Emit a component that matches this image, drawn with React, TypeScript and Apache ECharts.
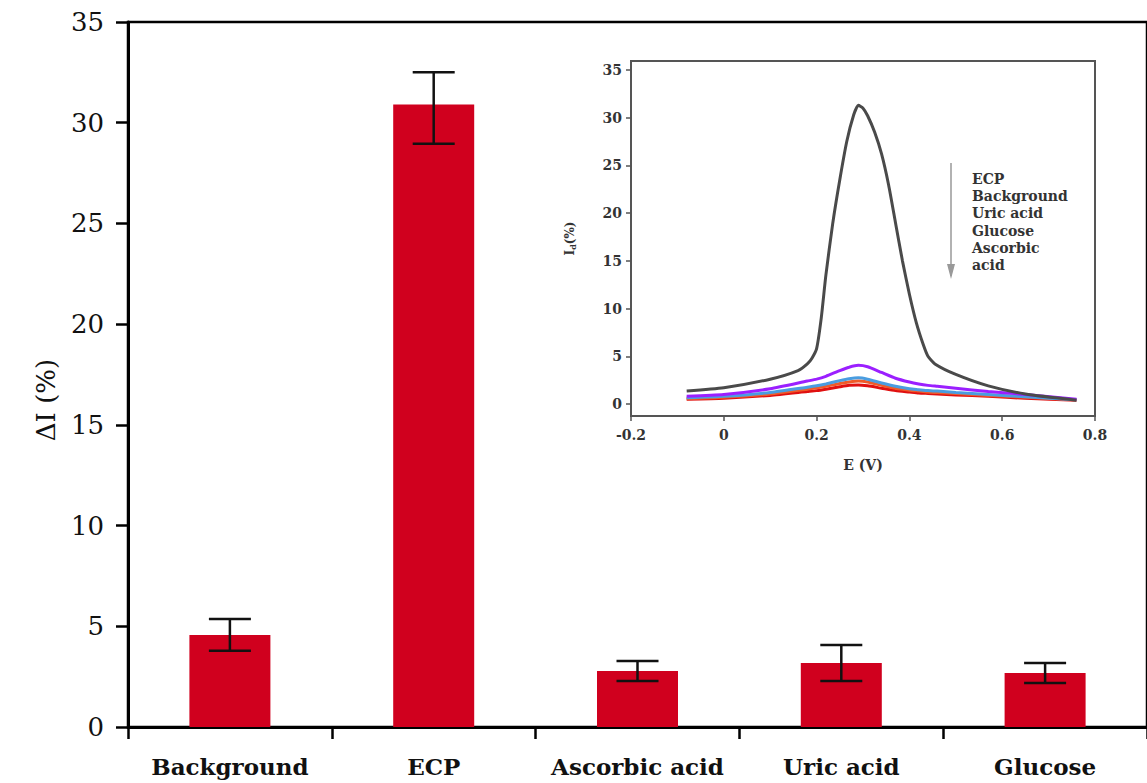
import React, { useEffect, useRef } from "react";
import * as echarts from "echarts";

const categories = ["Background", "ECP", "Ascorbic acid", "Uric acid", "Glucose"];
const barValues = [4.57, 30.9, 2.78, 3.18, 2.68];
const errLow = [3.78, 28.95, 2.28, 2.28, 2.18];
const errHigh = [5.36, 32.5, 3.28, 4.07, 3.18];
const yTicks = [0, 5, 10, 15, 20, 25, 30, 35];

const ecpE = [-0.08, 0, 0.1, 0.16, 0.18, 0.19, 0.2, 0.21, 0.22, 0.235, 0.25, 0.265, 0.28, 0.29, 0.3, 0.31, 0.325, 0.34, 0.355, 0.37, 0.385, 0.4, 0.415, 0.43, 0.44, 0.455, 0.5, 0.57, 0.65, 0.76];
const insetECP = [1.35, 1.7, 2.6, 3.5, 4.2, 4.8, 5.8, 9.0, 13.5, 19, 23.5, 27.5, 30.3, 31.3, 31.0, 30.2, 28.5, 26.2, 23, 19, 15, 11.5, 8.5, 6.2, 5.0, 4.2, 3.1, 1.9, 1.05, 0.4];
const insetE = [-0.08, 0, 0.1, 0.18, 0.2, 0.22, 0.25, 0.27, 0.29, 0.31, 0.34, 0.37, 0.4, 0.42, 0.44, 0.46, 0.5, 0.57, 0.65, 0.76];
const insetBackground = [0.8, 1.0, 1.6, 2.4, 2.6, 2.9, 3.5, 3.85, 4.05, 3.9, 3.3, 2.7, 2.3, 2.1, 1.95, 1.85, 1.65, 1.3, 1.0, 0.5];
const insetUric = [0.65, 0.8, 1.2, 1.75, 1.9, 2.1, 2.45, 2.65, 2.75, 2.6, 2.2, 1.85, 1.6, 1.5, 1.4, 1.35, 1.2, 1.0, 0.75, 0.45];
const insetGlucose = [0.55, 0.7, 1.05, 1.55, 1.7, 1.85, 2.15, 2.3, 2.4, 2.3, 1.95, 1.65, 1.45, 1.35, 1.25, 1.2, 1.1, 0.9, 0.7, 0.45];
const insetAscorbic = [0.5, 0.6, 0.9, 1.3, 1.4, 1.55, 1.8, 1.95, 2.0, 1.9, 1.65, 1.4, 1.25, 1.15, 1.1, 1.05, 0.95, 0.8, 0.6, 0.4];
const insetLegend = ["ECP", "Background", "Uric acid", "Glucose", "Ascorbic", "acid"];

const FONT = "DejaVu Serif";

export default function App() {
  const ref = useRef<HTMLDivElement>(null);
  useEffect(() => {
    if (!ref.current) return;
    const chart = echarts.init(ref.current, null, { renderer: "svg" });
    const pair = (xs: number[], ys: number[]) => xs.map((e, i) => [e, ys[i]]);
    const insetLine = (name: string, xs: number[], ys: number[], color: string, w: number) => ({
      type: "line",
      name,
      xAxisIndex: 1,
      yAxisIndex: 1,
      data: pair(xs, ys),
      smooth: 0.2,
      showSymbol: false,
      lineStyle: { color, width: w },
      z: 5,
    });
    chart.setOption({
      animation: false,
      backgroundColor: "#ffffff",
      grid: [
        { left: 128, top: 22, width: 1032, height: 705, show: true, borderColor: "#000", borderWidth: 2.5, backgroundColor: "transparent" },
        { left: 631, top: 61, width: 464, height: 355, show: true, borderColor: "#555", borderWidth: 2, backgroundColor: "#fff", z: 3 },
      ],
      xAxis: [
        {
          type: "category",
          gridIndex: 0,
          data: categories,
          axisLine: { lineStyle: { color: "#000", width: 3 } },
          axisTick: { show: true, interval: 0, length: 12, lineStyle: { color: "#000", width: 2.5 } },
          axisLabel: { interval: 0, margin: 28, fontFamily: FONT, fontSize: 23, fontWeight: "bold", color: "#111" },
        },
        {
          type: "value",
          gridIndex: 1,
          min: -0.2,
          max: 0.8,
          interval: 0.2,
          splitLine: { show: false },
          axisLine: { onZero: false, lineStyle: { color: "#555", width: 2 } },
          axisTick: { length: 5, lineStyle: { color: "#555", width: 1.5 } },
          axisLabel: { margin: 12, fontFamily: FONT, fontSize: 14, fontWeight: "bold", color: "#333" },
          name: "E (V)",
          nameLocation: "middle",
          nameGap: 42,
          nameTextStyle: { fontFamily: FONT, fontSize: 14, fontWeight: "bold", color: "#333" },
          z: 4,
        },
      ],
      yAxis: [
        {
          type: "value",
          gridIndex: 0,
          min: 0,
          max: 35,
          interval: 5,
          splitLine: { show: false },
          axisLine: { show: true, lineStyle: { color: "#000", width: 3 } },
          axisTick: { show: true, length: 12, lineStyle: { color: "#000", width: 2.5 } },
          axisLabel: { margin: 24, fontFamily: FONT, fontSize: 26, color: "#111", customValues: yTicks },
        },
        {
          type: "value",
          gridIndex: 1,
          min: -1.26,
          max: 35.94,
          splitLine: { show: false },
          axisLine: { onZero: false, lineStyle: { color: "#555", width: 2 } },
          axisTick: { length: 5, lineStyle: { color: "#555", width: 1.5 }, customValues: yTicks },
          axisLabel: { margin: 9, fontFamily: FONT, fontSize: 14, fontWeight: "bold", color: "#333", customValues: yTicks },
          name: "{a|I}{b|d}{a|(%)}",
          nameLocation: "middle",
          nameGap: 54,
          nameTextStyle: {
            rich: {
              a: { fontFamily: FONT, fontSize: 12, fontWeight: "bold", color: "#333" },
              b: { fontFamily: FONT, fontSize: 8, fontWeight: "bold", color: "#333", verticalAlign: "bottom", padding: [6, 0, 0, 0] },
            },
          },
          z: 4,
        },
      ],
      series: [
        {
          type: "bar",
          xAxisIndex: 0,
          yAxisIndex: 0,
          data: barValues,
          barWidth: 81,
          itemStyle: { color: "#d0001e" },
          z: 2,
        },
        {
          type: "custom",
          xAxisIndex: 0,
          yAxisIndex: 0,
          data: categories.map((_, i) => [i, errLow[i], errHigh[i]]),
          renderItem: (params: any, api: any) => {
            const lo = api.coord([api.value(0), api.value(1)]);
            const hi = api.coord([api.value(0), api.value(2)]);
            const hw = 21;
            const st = { stroke: "#111", lineWidth: 2.5 };
            return {
              type: "group",
              children: [
                { type: "line", shape: { x1: lo[0], y1: lo[1], x2: hi[0], y2: hi[1] }, style: st },
                { type: "line", shape: { x1: lo[0] - hw, y1: lo[1], x2: lo[0] + hw, y2: lo[1] }, style: st },
                { type: "line", shape: { x1: hi[0] - hw, y1: hi[1], x2: hi[0] + hw, y2: hi[1] }, style: st },
              ],
            };
          },
          z: 3,
        },
        insetLine("Ascorbic acid", insetE, insetAscorbic, "#e01010", 3),
        insetLine("Glucose", insetE, insetGlucose, "#f05a28", 3),
        insetLine("Uric acid", insetE, insetUric, "#4a9de0", 3),
        insetLine("Background", insetE, insetBackground, "#9b1fff", 3),
        insetLine("ECP", ecpE, insetECP, "#4a4a4a", 3),
      ],
      graphic: [
        {
          type: "text",
          x: 46,
          y: 400,
          rotation: Math.PI / 2,
          style: { text: "ΔI (%)", font: `26px "${FONT}"`, fill: "#111", align: "center", verticalAlign: "middle" },
          z: 10,
        },
        {
          type: "line",
          shape: { x1: 951, y1: 163, x2: 951, y2: 276 },
          style: { stroke: "#999", lineWidth: 1.5 },
          z: 10,
        },
        {
          type: "polygon",
          shape: { points: [[947, 264], [955, 264], [951, 279]] },
          style: { fill: "#999" },
          z: 10,
        },
        ...insetLegend.map((t, i) => ({
          type: "text",
          x: 972,
          y: 172 + i * 17.2,
          style: { text: t, font: `bold 14px "${FONT}"`, fill: "#333" },
          z: 10,
        })),
      ],
    });
    return () => chart.dispose();
  }, []);
  return <div ref={ref} style={{ position: "fixed", left: 0, top: 0, width: 1147, height: 783 }} />;
}
